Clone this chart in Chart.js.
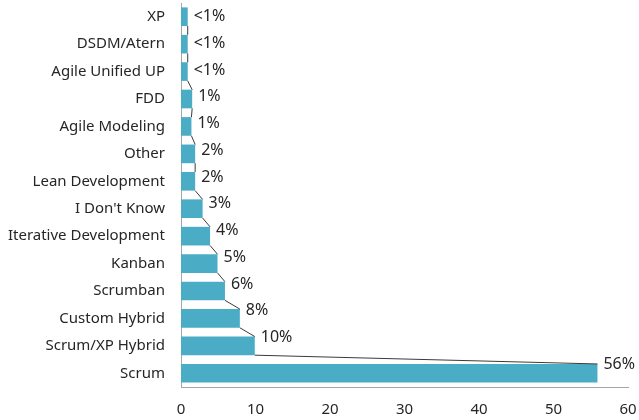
<!DOCTYPE html>
<html>
<head>
<meta charset="utf-8">
<script src="https://cdn.jsdelivr.net/npm/chart.js@4"></script>
<style>
  body { margin: 0; background: #fff; }
  #wrap { width: 639px; height: 420px; }
</style>
</head>
<body>
<div id="wrap"><canvas id="myChart" width="639" height="420"></canvas></div>
<script>
// Categories, values and the printed labels
const methods = ['XP', 'DSDM/Atern', 'Agile Unified UP', 'FDD', 'Agile Modeling', 'Other',
  'Lean Development', "I Don't Know", 'Iterative Development', 'Kanban', 'Scrumban',
  'Custom Hybrid', 'Scrum/XP Hybrid', 'Scrum'];
const shares = [0.9, 0.9, 0.9, 1.5, 1.4, 1.9, 1.9, 2.9, 3.9, 4.9, 5.9, 7.9, 9.9, 55.9];
const shareLabels = ['<1%', '<1%', '<1%', '1%', '1%', '2%', '2%', '3%', '4%', '5%', '6%', '8%', '10%', '56%'];
const xTicks = [0, 10, 20, 30, 40, 50, 60];

// Excel style series lines between bars, plus the value labels
const seriesLines = {
  id: 'seriesLines',
  afterDatasetsDraw(chart) {
    const ctx = chart.ctx;
    const bars = chart.getDatasetMeta(0).data;
    ctx.save();
    ctx.strokeStyle = '#3a3a3a';
    ctx.lineWidth = 1;
    for (let i = 0; i < bars.length - 1; i++) {
      const a = bars[i], b = bars[i + 1];
      ctx.beginPath();
      ctx.moveTo(a.x, a.y + a.height / 2);
      ctx.lineTo(b.x, b.y - b.height / 2);
      ctx.stroke();
    }
    ctx.fillStyle = '#262626';
    ctx.font = '16px "Noto Sans"';
    ctx.textBaseline = 'middle';
    bars.forEach((bar, i) => {
      const lift = 9 * i / (bars.length - 1);
      ctx.fillText(shareLabels[i], bar.x + 6, bar.y - lift);
    });
    ctx.restore();
  }
};

var ctx = document.getElementById('myChart').getContext('2d');

var chart = new Chart(ctx, {
  type: 'bar',
  data: {
    labels: methods,
    datasets: [{
      data: shares,
      backgroundColor: '#4BACC6',
      categoryPercentage: 1,
      barPercentage: 0.68
    }]
  },
  plugins: [seriesLines],
  options: {
    indexAxis: 'y',
    responsive: false,
    animation: false,
    layout: { padding: { top: 3, right: 11, bottom: 0, left: 6 } },
    plugins: { legend: { display: false }, tooltip: { enabled: false } },
    scales: {
      x: {
        min: 0,
        max: 60,
        afterBuildTicks: axis => { axis.ticks = xTicks.map(v => ({ value: v })); },
        afterFit: axis => { axis.paddingLeft = 0; axis.paddingRight = 0; axis.height = 33; },
        grid: { display: false, drawTicks: false },
        border: { display: true, color: '#a6a6a6', width: 1 },
        ticks: { color: '#262626', font: { family: 'Noto Sans', size: 15 }, padding: 14 }
      },
      y: {
        afterFit: axis => { axis.paddingTop = 0; axis.paddingBottom = 0; axis.width = 175; },
        grid: { display: false, drawTicks: false },
        border: { display: true, color: '#a6a6a6', width: 1 },
        ticks: { color: '#262626', font: { family: 'Noto Sans', size: 15 }, padding: 16, autoSkip: false }
      }
    }
  }
});
</script>
</body>
</html>
